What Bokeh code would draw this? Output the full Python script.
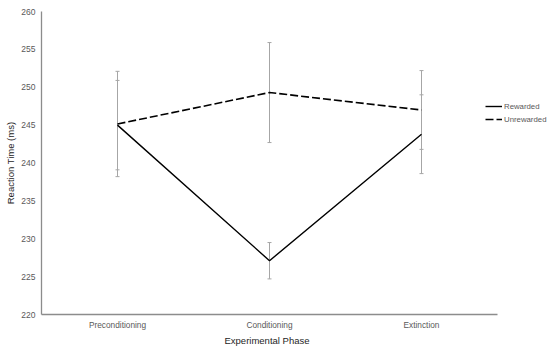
from bokeh.plotting import figure
from bokeh.models import (ColumnDataSource, Whisker, TeeHead, Legend, LegendItem,
                          FixedTicker, Title)
from bokeh.embed import file_html
from bokeh.resources import INLINE

phases = ["Preconditioning", "Conditioning", "Extinction"]
rewarded = [245.0, 227.1, 243.8]
rewarded_err = [5.9, 2.4, 5.2]
unrewarded = [245.15, 249.3, 247.0]
unrewarded_err = [6.95, 6.6, 5.2]
y_ticks = [220, 225, 230, 235, 240, 245, 250, 255, 260]

FONT = "Liberation Sans"
AX = "#8c8c8c"

xs = [i + 0.5 for i in range(len(phases))]
n = len(phases)
# frame extends to the right of the category axis to leave room for the legend
x_end = n + 53 / 152

p = figure(x_range=(0, x_end), y_range=(220, 260), width=550, height=349,
           output_backend="svg", toolbar_location=None,
           min_border_left=41, min_border_right=0, min_border_top=11, min_border_bottom=35)
p.outline_line_color = None
p.xgrid.grid_line_color = None
p.ygrid.grid_line_color = None

src_r = ColumnDataSource(dict(x=xs, y=rewarded,
                              lo=[v - e for v, e in zip(rewarded, rewarded_err)],
                              hi=[v + e for v, e in zip(rewarded, rewarded_err)]))
src_u = ColumnDataSource(dict(x=xs, y=unrewarded,
                              lo=[v - e for v, e in zip(unrewarded, unrewarded_err)],
                              hi=[v + e for v, e in zip(unrewarded, unrewarded_err)]))

for src in (src_r, src_u):
    w = Whisker(source=src, base="x", lower="lo", upper="hi",
                line_color="#a6a6a6", line_width=1,
                upper_head=TeeHead(size=4, line_color="#a6a6a6", line_width=1),
                lower_head=TeeHead(size=4, line_color="#a6a6a6", line_width=1))
    p.add_layout(w)

lr = p.line("x", "y", source=src_r, line_color="black", line_width=1.4)
lu = p.line("x", "y", source=src_u, line_color="black", line_width=1.6, line_dash="8 3")

legend = Legend(items=[LegendItem(label="Rewarded", renderers=[lr]),
                       LegendItem(label="Unrewarded", renderers=[lu])],
                location=(444, 190), orientation="vertical",
                glyph_width=17, glyph_height=10, label_standoff=2, spacing=3,
                padding=0, margin=0,
                label_text_font=FONT, label_text_font_size="7.8px", label_text_color="#595959",
                border_line_color=None, background_fill_alpha=0)
p.add_layout(legend, "center")

for ax in (p.xaxis, p.yaxis):
    ax.axis_line_color = AX
    ax.axis_line_width = 1.3
    ax.major_tick_line_color = None
    ax.minor_tick_line_color = None
    ax.major_tick_out = 0
    ax.major_tick_in = 0
    ax.major_label_text_font = FONT
    ax.major_label_text_font_size = "8.3px"
    ax.major_label_text_color = "#595959"
    ax.axis_label_text_font = FONT
    ax.axis_label_text_font_size = "9.5px"
    ax.axis_label_text_font_style = "normal"
    ax.axis_label_text_color = "#262626"

p.yaxis.ticker = FixedTicker(ticks=y_ticks)
p.yaxis.major_label_text_font_size = "8.5px"
p.yaxis.axis_label = "Reaction Time (ms)"
p.yaxis.major_label_standoff = 6
p.yaxis.axis_label_standoff = 2

p.xaxis.bounds = (0, n)
p.xaxis.ticker = FixedTicker(ticks=xs)
p.xaxis.major_label_overrides = {x: name for x, name in zip(xs, phases)}
p.xaxis.major_label_standoff = 5

xtitle = Title(text="Experimental Phase", align="left", offset=183, standoff=0,
               text_font=FONT, text_font_size="9.5px", text_font_style="normal",
               text_color="#262626")
p.add_layout(xtitle, "below")

open("out.html", "w").write(file_html(p, INLINE))
